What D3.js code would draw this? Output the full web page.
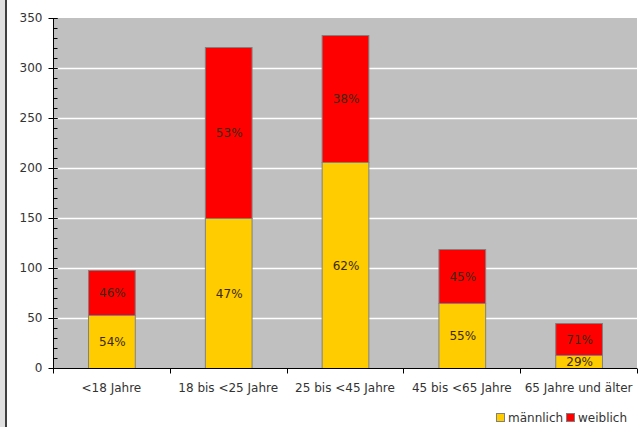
<!DOCTYPE html>
<html>
<head>
<meta charset="utf-8">
<script src="https://cdn.jsdelivr.net/npm/d3@7"></script>
<style>
  body { margin: 0; background: #fff; }
  svg { display: block; font-family: "DejaVu Sans", sans-serif; }
</style>
</head>
<body>
<svg id="chart" width="643" height="427"></svg>
<script>
// Altersgruppen
var categories = ["<18 Jahre", "18 bis <25 Jahre", "25 bis <45 Jahre", "45 bis <65 Jahre", "65 Jahre und älter"];
var maennlich = [53, 150, 206, 65, 13];
var weiblich = [45, 171, 127, 54, 32];
var seriesNames = ["männlich", "weiblich"];
var yTicks = [0, 50, 100, 150, 200, 250, 300, 350];

var colors = { "männlich": "#ffcc00", "weiblich": "#ff0000" };

var svg = d3.select("#chart");
var margin = { left: 53, right: 6, top: 18, bottom: 59 };
var width = 643 - margin.left - margin.right,
    height = 427 - margin.top - margin.bottom;

// left frame strip
svg.append("rect").attr("x", 0).attr("y", 0).attr("width", 5).attr("height", 427).attr("fill", "#e0e0e0");
svg.append("rect").attr("x", 5).attr("y", 0).attr("width", 2).attr("height", 427).attr("fill", "#404040");

var xScale = d3.scaleBand()
  .domain(categories)
  .range([margin.left, margin.left + width])
  .paddingInner(0.6)
  .paddingOuter(0.3);

var yScale = d3.scaleLinear()
  .domain([0, 350])
  .range([margin.top + height, margin.top]);

// plot background
svg.append("rect")
  .attr("x", margin.left).attr("y", margin.top)
  .attr("width", width).attr("height", height)
  .attr("fill", "#c0c0c0");

// gridlines
svg.append("g")
  .selectAll("line")
  .data(yTicks.filter(function(d) { return d > 0 && d < 350; }))
  .enter()
  .append("line")
    .attr("x1", margin.left).attr("x2", margin.left + width)
    .attr("y1", function(d) { return yScale(d) + 0.5; })
    .attr("y2", function(d) { return yScale(d) + 0.5; })
    .attr("stroke", "#ffffff")
    .attr("stroke-width", 1.5);

// stacked data
var rows = categories.map(function(c, i) {
  return { key: c, "männlich": maennlich[i], "weiblich": weiblich[i] };
});
var stack = d3.stack().keys(seriesNames)(rows);

var g = svg.append("g");
stack.forEach(function(layer) {
  g.selectAll(".seg-" + layer.index)
    .data(layer)
    .enter()
    .append("rect")
      .attr("x", function(d) { return xScale(d.data.key) + 0.5; })
      .attr("y", function(d) { return yScale(d[1]) + 0.5; })
      .attr("width", xScale.bandwidth())
      .attr("height", function(d) { return yScale(d[0]) - yScale(d[1]); })
      .attr("fill", colors[layer.key])
      .attr("stroke", "#808080")
      .attr("stroke-width", 1);

  g.selectAll(".lab-" + layer.index)
    .data(layer)
    .enter()
    .append("text")
      .attr("x", function(d) { return xScale(d.data.key) + xScale.bandwidth() / 2 + 1; })
      .attr("y", function(d) { return (yScale(d[0]) + yScale(d[1])) / 2 + 1; })
      .attr("text-anchor", "middle")
      .attr("dominant-baseline", "middle")
      .attr("font-size", "12px")
      .attr("fill", "#3a2a10")
      .text(function(d) {
        var total = d.data["männlich"] + d.data["weiblich"];
        return Math.round((d[1] - d[0]) / total * 100) + "%";
      });
});

// y axis
var yAxis = svg.append("g")
  .attr("transform", "translate(" + (margin.left + 0.5) + ",0)");
yAxis.append("line")
  .attr("x1", 0).attr("x2", 0)
  .attr("y1", margin.top).attr("y2", margin.top + height)
  .attr("stroke", "#000");
yAxis.selectAll(".minor")
  .data(d3.range(0, 351, 10))
  .enter()
  .append("line")
    .attr("x1", 0).attr("x2", 4)
    .attr("y1", function(d) { return Math.round(yScale(d)) + 0.5; })
    .attr("y2", function(d) { return Math.round(yScale(d)) + 0.5; })
    .attr("stroke", "#000");
yAxis.selectAll(".major")
  .data(yTicks)
  .enter()
  .append("line")
    .attr("x1", -5).attr("x2", 4)
    .attr("y1", function(d) { return Math.round(yScale(d)) + 0.5; })
    .attr("y2", function(d) { return Math.round(yScale(d)) + 0.5; })
    .attr("stroke", "#000");
yAxis.selectAll("text")
  .data(yTicks)
  .enter()
  .append("text")
    .attr("x", -11)
    .attr("y", function(d) { return yScale(d); })
    .attr("dy", "0.35em")
    .attr("text-anchor", "end")
    .attr("font-size", "12px")
    .attr("fill", "#333")
    .text(function(d) { return d; });

// x axis
var xAxisY = margin.top + height + 0.5;
svg.append("line")
  .attr("x1", margin.left).attr("x2", margin.left + width)
  .attr("y1", xAxisY).attr("y2", xAxisY)
  .attr("stroke", "#000");
svg.selectAll(".xtick")
  .data(d3.range(categories.length + 1))
  .enter()
  .append("line")
    .attr("x1", function(i) { return Math.round(margin.left + i * width / categories.length) + 0.5; })
    .attr("x2", function(i) { return Math.round(margin.left + i * width / categories.length) + 0.5; })
    .attr("y1", xAxisY).attr("y2", xAxisY + 5)
    .attr("stroke", "#000");
svg.selectAll(".xlab")
  .data(categories)
  .enter()
  .append("text")
    .attr("x", function(d) { return xScale(d) + xScale.bandwidth() / 2; })
    .attr("y", 392)
    .attr("text-anchor", "middle")
    .attr("font-size", "12px")
    .attr("fill", "#333")
    .text(function(d) { return d; });

// legend
var legend = svg.append("g").attr("transform", "translate(496,413)");
var lx = [0, 70];
seriesNames.forEach(function(name, i) {
  legend.append("rect")
    .attr("x", lx[i] + 0.5).attr("y", 0.5)
    .attr("width", 8).attr("height", 8)
    .attr("fill", colors[name])
    .attr("stroke", "#808080");
  legend.append("text")
    .attr("x", lx[i] + 12).attr("y", 5)
    .attr("dy", "0.35em")
    .attr("font-size", "12px")
    .attr("fill", "#333")
    .text(name);
});
</script>
</body>
</html>
